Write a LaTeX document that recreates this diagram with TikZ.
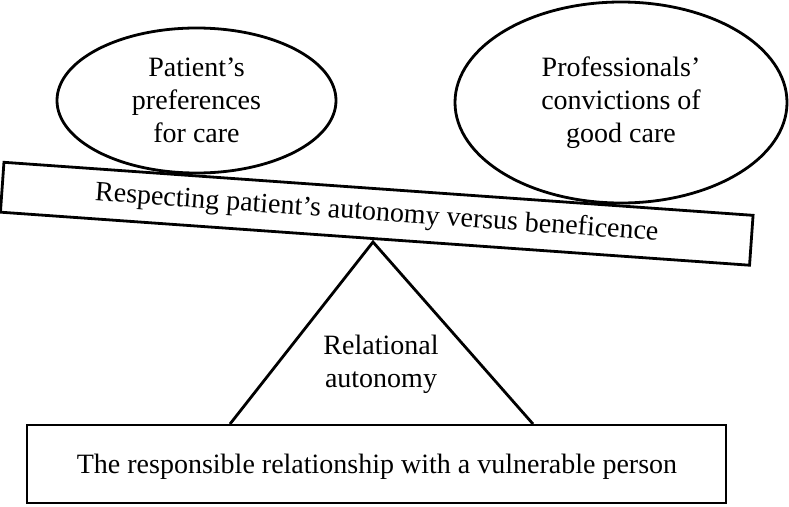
\documentclass[tikz,border=0pt]{standalone}
\usepackage{fontspec}
\setmainfont{Liberation Serif}
\usetikzlibrary{shapes.geometric}
\begin{document}
\begin{tikzpicture}[x=1pt,y=-1pt,
  every node/.style={font=\fontsize{28}{33}\selectfont, align=center, inner sep=0pt},
  oval/.style={draw, ellipse, line width=2.8pt},
  boxshape/.style={draw, rectangle, line width=2.8pt},
  tri/.style={draw, line width=2.8pt, line join=miter}]
\useasboundingbox (0,0) rectangle (789,506);
% bottom rectangle
\node[boxshape, minimum width=699, minimum height=78] (base) at (376.5,464) {};
\node (basetext) at (377,467) {The responsible relationship with a vulnerable person};
% triangle
\coordinate (apex) at (373,242);
\coordinate (bl) at (230,424);
\coordinate (br) at (533,424);
\draw[tri] (bl) -- (apex) -- (br);
\node (rel) at (381,364) {Relational\\autonomy};
% tilted bar
\node[boxshape, rotate=-4.05, minimum width=751, minimum height=50] (bar) at (376.75,213.75) {Respecting patient’s autonomy versus beneficence};
% ellipses
\node[oval, minimum width=279, minimum height=145] (pat) at (196.5,100.5) {Patient’s\\preferences\\for care};
\node[oval, minimum width=332, minimum height=201] (prof) at (621,102.5) {Professionals’\\convictions of\\good care};
\end{tikzpicture}
\end{document}
